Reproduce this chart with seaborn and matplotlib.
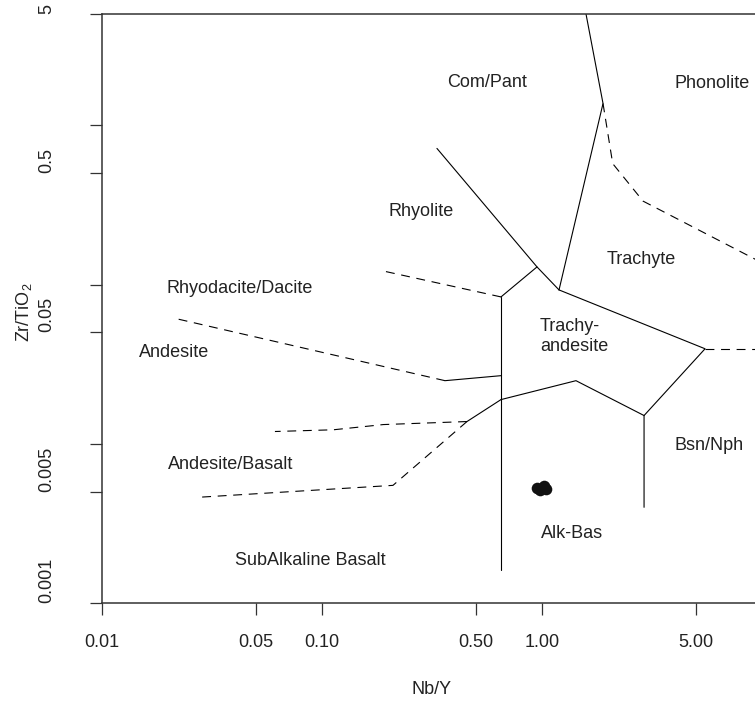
import matplotlib
matplotlib.use("Agg")
import matplotlib.pyplot as plt
import seaborn as sns
import pandas as pd

# ---- sample analyses (Nb/Y vs Zr/TiO2) ----
nb_y = [0.95, 0.98, 1.02, 1.04]
zr_tio2 = [0.0053, 0.0051, 0.0054, 0.0052]

# ---- field boundaries, Winchester & Floyd (1977) ----
# solid boundaries
rhy_x, rhy_y = [0.333, 0.949, 1.195], [0.716, 0.129, 0.0925]
rhy_tra_x, rhy_tra_y = [0.949, 0.651], [0.129, 0.0836]
cp_x, cp_y = [1.195, 1.894, 1.585], [0.0925, 1.371, 5.0]
ta_x, ta_y = [1.195, 5.51, 2.91, 2.91], [0.0925, 0.0395, 0.01504, 0.00399]
ab_x, ab_y = [2.91, 1.427, 0.651], [0.01504, 0.0249, 0.01894]
vert_x, vert_y = [0.651, 0.651], [0.0836, 0.00161]
and_x, and_y = [0.651, 0.3623], [0.02677, 0.0249]
ab2_x, ab2_y = [0.651, 0.456], [0.01894, 0.01379]

# dashed boundaries
d_and_x, d_and_y = [0.3623, 0.0219], [0.0249, 0.0609]
d_rd_x, d_rd_y = [0.651, 0.1894], [0.0836, 0.1217]
d_sab_x, d_sab_y = [0.456, 0.2102, 0.0273], [0.01379, 0.00548, 0.00461]
d_anb_x, d_anb_y = [0.456, 0.19, 0.1126, 0.0611], [0.01379, 0.0132, 0.01224, 0.01194]
d_bsn_x, d_bsn_y = [5.51, 10.0], [0.0395, 0.0395]
d_pho_x, d_pho_y = [1.894, 2.096, 2.88, 10.0], [1.371, 0.5747, 0.334, 0.137]

# ---- field names ----
field_names = ["Com/Pant", "Phonolite", "Rhyolite", "Rhyodacite/Dacite",
               "Andesite", "Trachyte", "Trachy-\nandesite", "Bsn/Nph",
               "Alk-Bas", "Andesite/Basalt", "SubAlkaline Basalt"]
field_x = [0.5623, 5.93, 0.2818, 0.0424, 0.02125, 2.818, 1.398, 5.74,
           1.369, 0.0386, 0.0882]
field_y = [1.856, 1.83, 0.289, 0.0939, 0.0373, 0.1446, 0.047, 0.00976,
           0.00274, 0.00742, 0.00186]

# ---- axis ticks ----
x_ticks = [0.01, 0.05, 0.1, 0.5, 1.0, 5.0]
x_tick_labels = ["0.01", "0.05", "0.10", "0.50", "1.00", "5.00"]
y_ticks = [0.001, 0.005, 0.01, 0.05, 0.1, 0.5, 1.0, 5.0]
y_tick_labels = ["0.001", "0.005", "", "0.05", "", "0.5", "", "5"]

sns.set_theme(style="white")
plt.rcParams["font.family"] = ["Liberation Sans", "DejaVu Sans"]
plt.rcParams["mathtext.default"] = "regular"

fig = plt.figure(figsize=(7.55, 7.06), dpi=100)
ax = fig.add_axes([102 / 755, 103 / 706, 660 / 755, 589 / 706])
ax.set_xscale("log")
ax.set_yscale("log")

line_kw = dict(color="black", linewidth=0.8, sort=False, estimator=None,
               legend=False, ax=ax)
for xs, ys in [(rhy_x, rhy_y), (rhy_tra_x, rhy_tra_y), (cp_x, cp_y),
               (ta_x, ta_y), (ab_x, ab_y), (vert_x, vert_y),
               (and_x, and_y), (ab2_x, ab2_y)]:
    sns.lineplot(x=xs, y=ys, **line_kw)

for xs, ys in [(d_and_x, d_and_y), (d_rd_x, d_rd_y), (d_sab_x, d_sab_y),
               (d_anb_x, d_anb_y), (d_bsn_x, d_bsn_y), (d_pho_x, d_pho_y)]:
    sns.lineplot(x=xs, y=ys, linestyle=(0, (8, 6)), **line_kw)

samples = pd.DataFrame({"Nb/Y": nb_y, "Zr/TiO2": zr_tio2})
sns.scatterplot(data=samples, x="Nb/Y", y="Zr/TiO2", color="#111111",
                s=70, linewidth=0, ax=ax, zorder=5)

for name, fx, fy in zip(field_names, field_x, field_y):
    ax.text(fx, fy, name, ha="center", va="center", fontsize=13,
            color="#222222", multialignment="left")

ax.set_xlim(0.01, 10)
ax.set_ylim(0.001, 5)
ax.set_xticks(x_ticks)
ax.set_xticklabels(x_tick_labels)
ax.set_yticks(y_ticks)
ax.set_yticklabels(y_tick_labels)
ax.minorticks_off()

ax.tick_params(axis="both", direction="out", length=8.6, width=0.9,
               color="#333333", labelsize=13, labelcolor="#222222",
               left=True, bottom=True)
ax.tick_params(axis="x", pad=14)
ax.tick_params(axis="y", pad=25, labelrotation=90)
for t in ax.yaxis.get_major_ticks():
    t.label1.set_verticalalignment("bottom")

for sp in ax.spines.values():
    sp.set_color("#333333")
    sp.set_linewidth(1.1)

ax.set_xlabel("")
ax.set_ylabel("")
fig.text(432 / 755, 1 - 689 / 706, "Nb/Y", ha="center", va="center",
         fontsize=13, color="#222222")
fig.text(24 / 755, 1 - 312 / 706, "Zr/TiO$_2$", ha="center", va="center",
         rotation=90, fontsize=13, color="#222222")

fig.savefig("out.png", dpi=100)
